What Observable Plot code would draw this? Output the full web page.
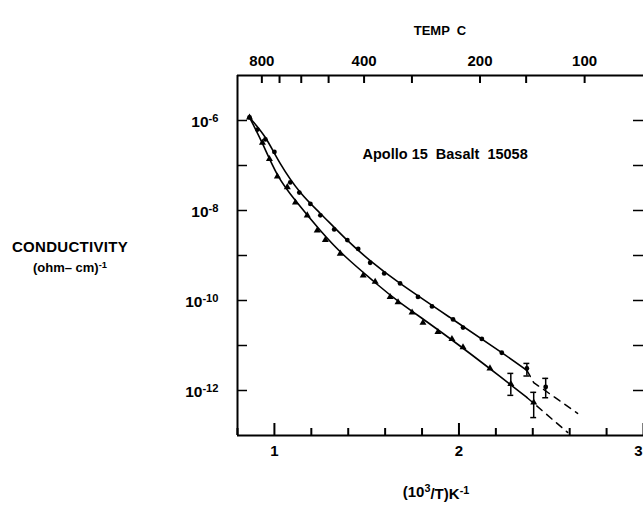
<!DOCTYPE html>
<html>
<head>
<meta charset="utf-8">
<script src="https://cdn.jsdelivr.net/npm/d3@7"></script>
<script src="https://cdn.jsdelivr.net/npm/@observablehq/plot@0.6"></script>
<style>
  html, body { margin: 0; padding: 0; background: #fff; overflow: hidden; }
  #chart svg { display: block; }
</style>
</head>
<body>
<div id="chart"></div>
<script>
// ---- Data (x = 1000/T in K^-1, sigma in (ohm-cm)^-1) ----
const upperX = [0.865, 0.908, 0.951, 1.000, 1.086, 1.135, 1.195, 1.249, 1.324, 1.395, 1.454, 1.519, 1.595, 1.681, 1.778, 1.854, 1.968, 2.022, 2.124, 2.232, 2.368];
const upperSigma = [1.17e-6, 6.3e-7, 3.8e-7, 2.0e-7, 4.2e-8, 2.5e-8, 1.4e-8, 7.8e-9, 3.8e-9, 2.2e-9, 1.4e-9, 6.9e-10, 4.0e-10, 2.4e-10, 1.2e-10, 7.4e-11, 3.8e-11, 2.5e-11, 1.4e-11, 6.9e-12, 3.1e-12];

const lowerX = [0.865, 0.935, 0.973, 1.016, 1.070, 1.114, 1.178, 1.232, 1.276, 1.357, 1.481, 1.546, 1.627, 1.670, 1.746, 1.805, 1.886, 1.962, 2.022, 2.168, 2.281, 2.405];
const lowerSigma = [1.17e-6, 3.2e-7, 1.4e-7, 5.7e-8, 3.3e-8, 1.5e-8, 7.8e-9, 3.6e-9, 2.2e-9, 1.1e-9, 3.6e-10, 2.6e-10, 1.2e-10, 9.1e-11, 5.4e-11, 3.2e-11, 2.0e-11, 1.4e-11, 9.1e-12, 3.1e-12, 1.4e-12, 5.4e-13];

const extraX = [2.470];
const extraSigma = [1.2e-12];

// error bars
const errX = [2.368, 2.281, 2.405, 2.470];
const errLow = [2.1e-12, 7.8e-13, 2.5e-13, 6.9e-13];
const errHigh = [4.0e-12, 2.4e-12, 9.1e-13, 1.86e-12];

// fitted curves
const upperFitX = [0.865, 0.951, 1.032, 1.141, 1.249, 1.384, 1.519, 1.681, 1.951, 2.222, 2.368];
const upperFitSigma = [1.17e-6, 4.2e-7, 1.1e-7, 2.5e-8, 8.6e-9, 2.4e-9, 7.7e-10, 2.4e-10, 4.2e-11, 7.4e-12, 2.8e-12];
const lowerFitX = [0.865, 0.935, 1.016, 1.114, 1.249, 1.384, 1.546, 1.681, 1.951, 2.222, 2.368];
const lowerFitSigma = [1.17e-6, 3.1e-7, 6.3e-8, 1.67e-8, 3.6e-9, 9.5e-10, 2.5e-10, 9.0e-11, 1.43e-11, 2.05e-12, 7.0e-13];

// extrapolations (dashed)
const upperDashX = [2.368, 2.405, 2.643];
const upperDashSigma = [2.8e-12, 1.5e-12, 3.1e-13];
const lowerDashX = [2.368, 2.589];
const lowerDashSigma = [7.0e-13, 1.17e-13];

// ticks
const bottomLabels = [1, 2];
const bottomEdgeLabel = [3];
const bottomMajor = [1, 2, 3];
const bottomMinor = [0.8, 1.2, 1.4, 1.6, 1.8, 2.2, 2.4, 2.6, 2.8];
const tempTicks = [800, 700, 600, 500, 400, 300, 200, 150, 100];
const tempLabels = [800, 400, 200, 100];
const decades = [1e-6, 1e-7, 1e-8, 1e-9, 1e-10, 1e-11, 1e-12];
const yLabelTicks = [1e-6, 1e-8, 1e-10, 1e-12];

const sampleLabel = "Apollo 15  Basalt  15058";
const topTitle = "TEMP  C";
const yTitle1 = "CONDUCTIVITY";

// ---- build tables ----
const zip = (xs, ys) => xs.map((x, i) => ({x, y: ys[i]}));
const upper = zip(upperX, upperSigma);
const lower = zip(lowerX, lowerSigma);
const extra = zip(extraX, extraSigma);
const errs = errX.map((x, i) => ({x, lo: errLow[i], hi: errHigh[i]}));
const upperFit = zip(upperFitX, upperFitSigma);
const lowerFit = zip(lowerFitX, lowerFitSigma);
const upperDash = zip(upperDashX, upperDashSigma);
const lowerDash = zip(lowerDashX, lowerDashSigma);
const toX = t => 1000 / (t + 273);

const W = 643, H = 505;
const mT = 75, mB = 70, mL = 237, mR = 0;
const fh = H - mT - mB; // 360
const fw = W - mL - mR; // 406
const capW = 0.016;

const font = "'Liberation Sans', Arial, Helvetica, sans-serif";

const plot = Plot.plot({
  width: W,
  height: H,
  marginTop: mT,
  marginBottom: mB,
  marginLeft: mL,
  marginRight: mR,
  style: {fontFamily: font, fontSize: "13px", fontWeight: "bold", color: "#000", background: "#fff"},
  x: {domain: [0.8, 3.0], range: [mL, W], axis: null},
  y: {type: "log", domain: [1e-13, 1e-5], range: [H - mB, mT], axis: null},
  marks: [
    // frame lines
    Plot.ruleX([0.8], {stroke: "#000", strokeWidth: 2}),
    Plot.ruleY([1e-13], {stroke: "#000", strokeWidth: 2}),
    Plot.ruleY([1e-5], {stroke: "#000", strokeWidth: 2}),
    // inward ticks
    Plot.tickX(bottomMajor, {x: d => d, insetTop: fh - 12, stroke: "#000", strokeWidth: 2}),
    Plot.tickX(bottomMinor, {x: d => d, insetTop: fh - 7, stroke: "#000", strokeWidth: 2}),
    Plot.tickX(tempTicks, {x: toX, insetBottom: fh - 8, stroke: "#000", strokeWidth: 2}),
    Plot.tickY(decades, {y: d => d, insetRight: fw - 10, stroke: "#000", strokeWidth: 1.5}),
    Plot.tickY(decades, {y: d => d, insetLeft: fw - 10, stroke: "#000", strokeWidth: 1.5}),
    // tick labels
    Plot.text(bottomLabels, {x: d => d, y: 1e-13, dy: 16, text: d => String(d), fontSize: 15, fontWeight: "bold", fill: "#000"}),
    Plot.text(bottomEdgeLabel, {x: d => d, y: 1e-13, dy: 16, dx: -1, text: d => String(d), textAnchor: "end", fontSize: 15, fontWeight: "bold", fill: "#000"}),
    Plot.text(tempLabels, {x: toX, y: 1e-5, dy: -14, text: d => String(d), fontSize: 15, fontWeight: "bold", fill: "#000", letterSpacing: 1.5}),
    Plot.text(yLabelTicks, {x: 0.8, y: d => d, dx: -19, dy: 2, textAnchor: "end", text: d => "10^" + Math.round(Math.log10(d)), fontSize: 15.5, fontWeight: "bold", fill: "#000"}),
    // fitted curves
    Plot.line(upperFit, {x: "x", y: "y", curve: "natural", stroke: "#000", strokeWidth: 1.6}),
    Plot.line(lowerFit, {x: "x", y: "y", curve: "natural", stroke: "#000", strokeWidth: 1.6}),
    Plot.line(upperDash, {x: "x", y: "y", curve: "linear", stroke: "#000", strokeWidth: 1.5, strokeDasharray: "7,6"}),
    Plot.line(lowerDash, {x: "x", y: "y", curve: "linear", stroke: "#000", strokeWidth: 1.5, strokeDasharray: "7,6"}),
    // error bars
    Plot.ruleX(errs, {x: "x", y1: "lo", y2: "hi", stroke: "#000", strokeWidth: 1.5}),
    Plot.ruleY(errs, {y: "lo", x1: d => d.x - capW, x2: d => d.x + capW, stroke: "#000", strokeWidth: 1.5}),
    Plot.ruleY(errs, {y: "hi", x1: d => d.x - capW, x2: d => d.x + capW, stroke: "#000", strokeWidth: 1.5}),
    // data points
    Plot.dot(upper, {x: "x", y: "y", r: 2.4, fill: "#000", stroke: "none"}),
    Plot.dot(lower, {x: "x", y: "y", r: 2.6, symbol: "triangle", fill: "#000", stroke: "none"}),
    Plot.dot(extra, {x: "x", y: "y", r: 2.4, fill: "#000", stroke: "none"}),
    // annotation
    Plot.text([sampleLabel], {frameAnchor: "top-left", dx: 125, dy: 73, text: d => d, textAnchor: "start", fontSize: 14.5, fontWeight: "bold", fill: "#000"})
  ]
});

const svg = d3.select(plot);
svg.style("overflow", "hidden");

// turn "10^-6" into 10 with a superscript exponent
svg.selectAll("text").each(function() {
  const el = d3.select(this);
  if (!el.selectAll("tspan").empty()) return;
  const t = el.text();
  if (!t.startsWith("10^")) return;
  const exp = t.slice(3);
  el.text(null);
  el.append("tspan").text("10");
  el.append("tspan").attr("dy", "-0.45em").attr("font-size", "0.72em").text(exp);
});

const addText = (x, y, size, parts) => {
  const t = svg.append("text").attr("x", x).attr("y", y).attr("text-anchor", "middle")
    .attr("font-family", font).attr("font-size", size).attr("font-weight", "bold")
    .attr("fill", "#000");
  let raised = false;
  for (const [s, sup] of parts) {
    const ts = t.append("tspan").text(s);
    if (sup && !raised) { ts.attr("dy", "-0.45em").attr("font-size", "0.72em"); raised = true; }
    else if (!sup && raised) { ts.attr("dy", "0.45em"); raised = false; }
  }
  return t;
};
addText(440, 35, 13, [[topTitle, false]]);
addText(436, 497, 15, [["(10", false], ["3", true], ["/T)K", false], ["-1", true]]);
addText(70, 252, 15, [[yTitle1, false]]).attr("letter-spacing", 0.3);
addText(70, 272, 13, [["(ohm– cm)", false], ["-1", true]]);

document.getElementById("chart").appendChild(plot);
</script>
</body>
</html>
